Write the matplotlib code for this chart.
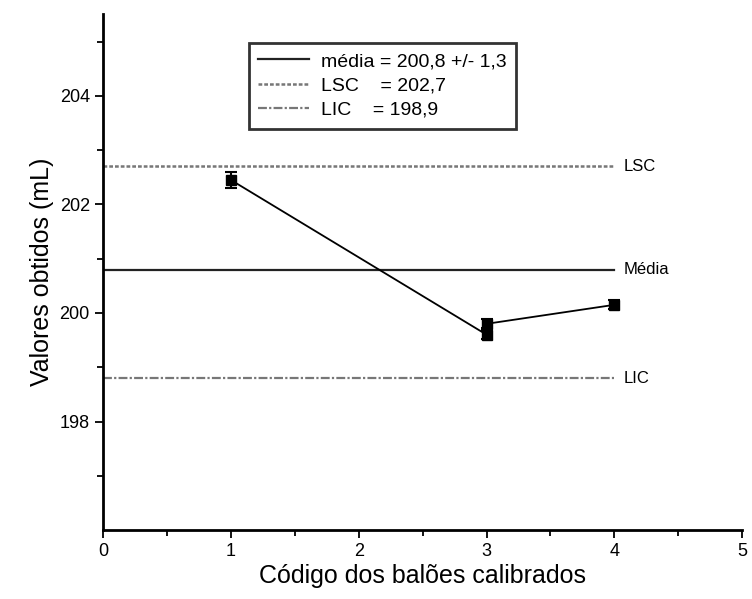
import matplotlib
matplotlib.use("Agg")
import matplotlib.pyplot as plt
from matplotlib.ticker import FixedLocator, MultipleLocator

plt.rcParams['font.family'] = ['Liberation Sans', 'DejaVu Sans']

# measured values (balloon code, volume in mL)
codes = [1, 3, 3, 4]
volumes = [202.45, 199.6, 199.8, 200.15]
errors = [0.14, 0.08, 0.08, 0.08]

media = 200.8
lsc = 202.7
lic = 198.8
limit_x = [0, 4]

legend_labels = ["média = 200,8 +/- 1,3", "LSC    = 202,7", "LIC    = 198,9"]
side_labels = ["LSC", "Média", "LIC"]
y_major = [198, 200, 202, 204]
y_minor = [197, 199, 201, 203, 205]

fig = plt.figure(figsize=(7.52, 5.99), dpi=100)
ax = fig.add_axes([0.137, 0.115, 0.850, 0.861])

l1, = ax.plot(limit_x, [media, media], color="#222222", lw=1.6)
l2, = ax.plot(limit_x, [lsc, lsc], color="#777777", lw=1.8, ls=(0, (1.5, 0.8)))
l3, = ax.plot(limit_x, [lic, lic], color="#777777", lw=1.6, ls=(0, (4, 1, 1, 1)))

ax.errorbar(codes, volumes, yerr=errors, color="black", marker="s", ms=7,
            lw=1.3, capsize=4, capthick=1.5, elinewidth=1.5)

for y, txt in zip([lsc, media, lic], side_labels):
    ax.text(4.07, y, txt, fontsize=12, va="center", ha="left")

leg = ax.legend([l1, l2, l3], legend_labels, loc="upper left",
                bbox_to_anchor=(0.228, 0.945), fontsize=14, frameon=True,
                fancybox=False, handlelength=2.6, borderpad=0.5,
                labelspacing=0.35, handletextpad=0.6, borderaxespad=0)
leg.get_frame().set_edgecolor("black")
leg.get_frame().set_linewidth(2)

ax.set_xlim(0, 5)
ax.set_ylim(196, 205.5)
ax.xaxis.set_major_locator(MultipleLocator(1))
ax.xaxis.set_minor_locator(MultipleLocator(0.5))
ax.yaxis.set_major_locator(FixedLocator(y_major))
ax.yaxis.set_minor_locator(FixedLocator(y_minor))
ax.tick_params(which="major", length=6, width=1.3, labelsize=13)
ax.tick_params(which="minor", length=4, width=1.3)

for side in ["top", "right"]:
    ax.spines[side].set_visible(False)
for side in ["left", "bottom"]:
    ax.spines[side].set_linewidth(2)

ax.set_xlabel("Código dos balões calibrados", fontsize=18, labelpad=3)
ax.set_ylabel("Valores obtidos (mL)", fontsize=18)

fig.savefig("out.png", dpi=100)
